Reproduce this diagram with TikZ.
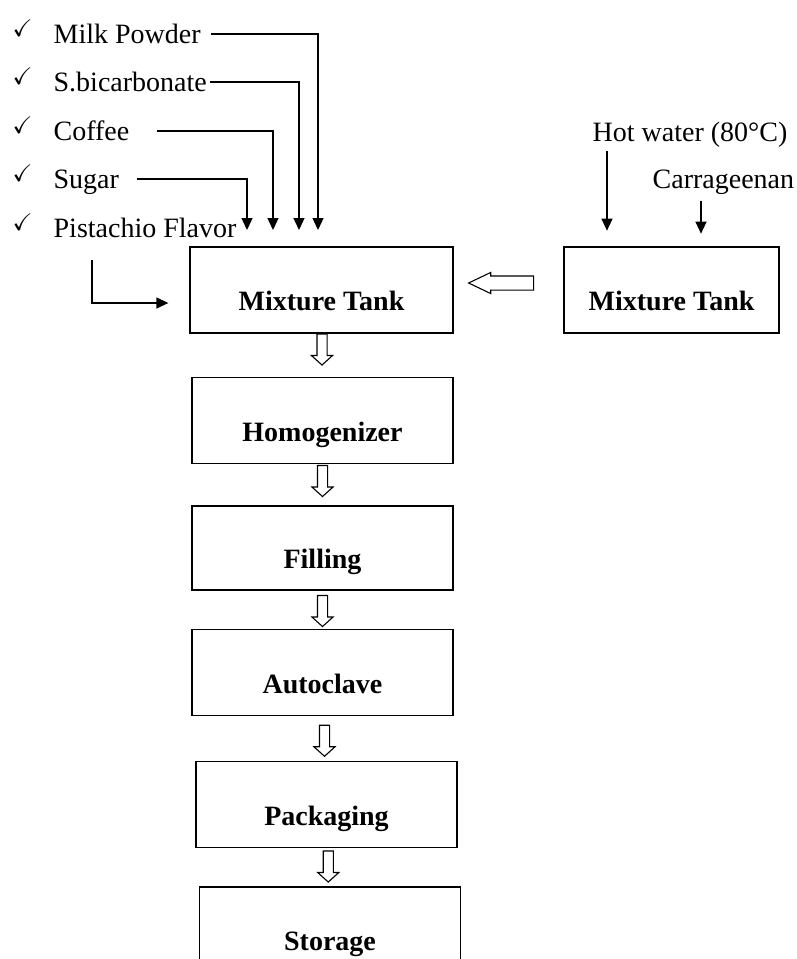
\documentclass[tikz,border=0pt]{standalone}
\usepackage{amssymb}
\usepackage{fontspec}
\setmainfont{Liberation Serif}
\usetikzlibrary{arrows.meta,shapes.arrows}
\newcommand{\chk}{\makebox[41pt][l]{\raisebox{7pt}{\fontsize{24}{24}\selectfont$\checkmark$}}}

\begin{document}
\begin{tikzpicture}[x=1pt,y=-1pt,
    font=\fontsize{28}{34}\selectfont, line width=1.3pt,
    box/.style={draw, minimum width=261pt, minimum height=86pt, text height=41pt, text depth=0pt, font=\fontsize{28}{34}\selectfont\bfseries},
    item/.style={anchor=base west, inner sep=0pt, text height=18pt, text depth=0pt},
    feed/.style={-{Triangle[length=12pt,width=11pt]}},
    hollow down/.style={draw, single arrow, rotate=-90, minimum height=31pt, minimum width=0pt, inner xsep=0pt, inner ysep=4.5pt, single arrow head extend=5.5pt, single arrow tip angle=96, line width=1.1pt},
    hollow left/.style={draw, single arrow, rotate=180, minimum height=65pt, minimum width=0pt, inner xsep=0pt, inner ysep=6.5pt, single arrow head extend=3.5pt, single arrow tip angle=51, line width=1.1pt}]
    \useasboundingbox (0,0) rectangle (797,959);
    \clip (0,0) rectangle (797,959);

    \node[box, minimum width=263pt] (mixL) at (321.5,290) {Mixture Tank};
    \node[box, minimum width=215pt] (mixR) at (671.5,290) {Mixture Tank};
    \node[box] (homo) at (322.5,420.5) {Homogenizer};
    \node[box, minimum height=84pt] (fill) at (322.5,548) {Filling};
    \node[box] (auto) at (322.5,672.5) {Autoclave};
    \node[box] (pack) at (326.5,804.5) {Packaging};
    \node[box] (stor) at (330,930) {Storage};

    \node[item] (milk) at (12,43) {\chk Milk Powder};
    \node[item] (bicarb) at (12,91) {\chk S.bicarbonate};
    \node[item] (coffee) at (12,140) {\chk Coffee};
    \node[item] (sugar) at (12,188) {\chk Sugar};
    \node[item] (pist) at (12,237) {\chk Pistachio Flavor};
    \node[item] (hot) at (592,141) {Hot water (80°C)};
    \node[item] (carr) at (652,188) {Carrageenan};

    \coordinate (in1) at (318,230);
    \coordinate (in2) at (299,230);
    \coordinate (in3) at (273,230);
    \coordinate (in4) at (247,230);
    \coordinate (pv) at (92,260);
    \draw[feed] ([xshift=10pt]milk.east) -| (in1);
    \draw[feed] ([xshift=3pt]bicarb.east) -| (in2);
    \draw[feed] ([xshift=27pt]coffee.east) -| (in3);
    \draw[feed] ([xshift=17pt]sugar.east) -| (in4);
    \draw[feed] (pv) |- ([xshift=-21pt,yshift=-13pt]mixL.west);
    \draw[feed] ([xshift=15pt,yshift=-9pt]hot.south west) -- ++(0,80);
    \draw[feed] ([xshift=49pt,yshift=-12pt]carr.south west) -- ++(0,33);

    \path (mixR.west) -- node[hollow left, yshift=-7pt] {} (mixL.east);
    \path (mixL.south) -- node[hollow down, xshift=-8pt] {} (homo.north);
    \path (homo.south) -- node[hollow down, xshift=-6pt] {} (fill.north);
    \path (fill.south) -- node[hollow down, xshift=-1pt] {} (auto.north);
    \path (auto.south) -- node[hollow down] {} (pack.north);
    \path (pack.south) -- node[hollow down, xshift=-3pt] {} (stor.north);
\end{tikzpicture}
\end{document}
